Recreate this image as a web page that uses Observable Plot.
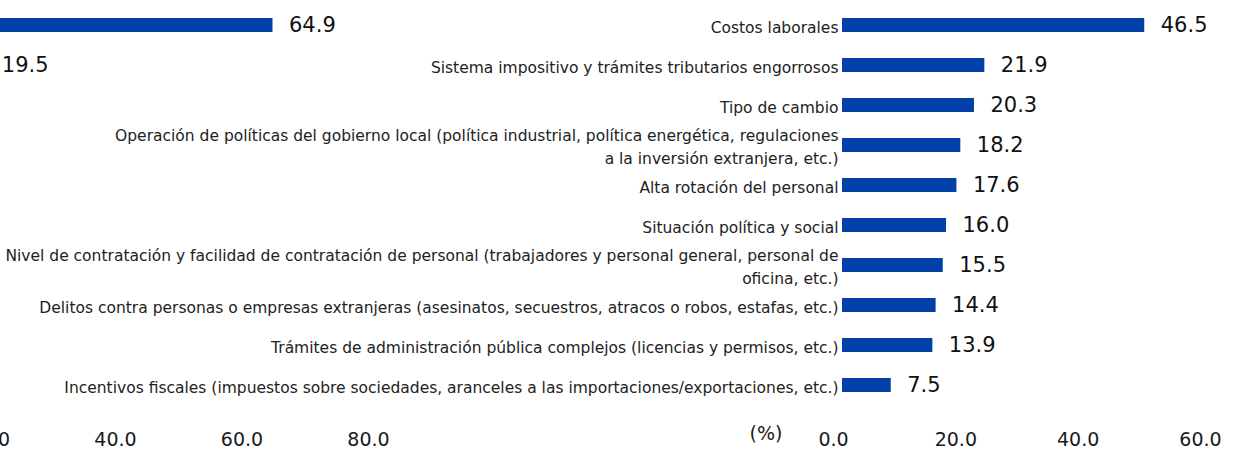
<!DOCTYPE html>
<html>
<head>
<meta charset="utf-8">
<script src="https://cdn.jsdelivr.net/npm/d3@7"></script>
<script src="https://cdn.jsdelivr.net/npm/@observablehq/plot@0.6"></script>
<style>
  html, body { margin: 0; padding: 0; background: #fff; }
  #wrap { position: relative; width: 1257px; height: 449px; overflow: hidden; background: #fff; }
</style>
</head>
<body>
<div id="wrap"></div>
<script>
// ---- data ----
const categories = [
  "Costos laborales",
  "Sistema impositivo y trámites tributarios engorrosos",
  "Tipo de cambio",
  "Operación de políticas del gobierno local (política industrial, política energética, regulaciones\na la inversión extranjera, etc.)",
  "Alta rotación del personal",
  "Situación política y social",
  "Nivel de contratación y facilidad de contratación de personal (trabajadores y personal general, personal de\noficina, etc.)",
  "Delitos contra personas o empresas extranjeras (asesinatos, secuestros, atracos o robos, estafas, etc.)",
  "Trámites de administración pública complejos (licencias y permisos, etc.)",
  "Incentivos fiscales (impuestos sobre sociedades, aranceles a las importaciones/exportaciones, etc.)"
];
const values = [46.5, 21.9, 20.3, 18.2, 17.6, 16.0, 15.5, 14.4, 13.9, 7.5];
const rightTicks = [0, 20, 40, 60];
const unitLabel = "(%)";

// partially visible neighbouring chart (only its last bars and axis are in view)
const leftValues = [64.9, 19.5];
const leftTicks = [0, 20, 40, 60, 80];

const data = categories.map((c, i) => ({c, v: values[i]}));
const leftData = leftValues.map((v, i) => ({i, v}));

const BAR = "#0040a8";
const FONT = "DejaVu Sans, Verdana, sans-serif";
const fmt = d => d.toFixed(1);
const wrap = document.getElementById("wrap");

// ---- left (cropped) chart ----
const left = Plot.plot({
  width: 520, height: 449,
  marginLeft: 0, marginRight: 14, marginTop: 0, marginBottom: 19,
  style: {fontFamily: FONT, background: "transparent", color: "#1a1a1a", overflow: "visible"},
  x: {domain: [0, 80], label: null},
  y: {type: "band", domain: leftData.map(d => d.i), range: [1, 88.5], paddingInner: 0.64, paddingOuter: 0.4, axis: null, label: null},
  marks: [
    Plot.axisX({ticks: leftTicks, tickFormat: fmt, tickSize: 0, tickPadding: 2, fontSize: 19, fill: "#1a1a1a", label: null}),
    Plot.barX(leftData, {x: "v", y: "i", fill: BAR}),
    Plot.text(leftData, {x: "v", y: "i", text: d => fmt(d.v), textAnchor: "start", dx: 16, fontSize: 21, fill: "#111"})
  ]
});
left.style.position = "absolute";
left.style.left = "-138px";
left.style.top = "0px";
wrap.appendChild(left);

// ---- right chart: bars and category labels ----
const right = Plot.plot({
  width: 1257, height: 449,
  marginLeft: 842, marginRight: 25, marginTop: 0, marginBottom: 39,
  style: {fontFamily: FONT, background: "transparent", color: "#1a1a1a", overflow: "visible"},
  x: {domain: [0, 60], axis: null, label: null},
  y: {domain: categories, paddingInner: 0.64, paddingOuter: 0.403, label: null},
  marks: [
    Plot.axisY({tickSize: 0, tickPadding: 4, fontSize: 15.5, lineHeight: 1.45, fill: "#222", label: null}),
    Plot.barX(data, {x: "v", y: "c", fill: BAR}),
    Plot.text(data, {x: "v", y: "c", text: d => fmt(d.v), textAnchor: "start", dx: 16, fontSize: 21, fill: "#111"})
  ]
});
right.style.position = "absolute";
right.style.left = "0px";
right.style.top = "0px";
wrap.appendChild(right);

// ---- right chart: value axis as printed ----
const axis = Plot.plot({
  width: 1257, height: 449,
  marginLeft: 833, marginRight: 57, marginTop: 0, marginBottom: 19,
  style: {fontFamily: FONT, background: "transparent", color: "#1a1a1a", overflow: "visible"},
  x: {domain: [0, 60], label: null},
  marks: [
    Plot.axisX({ticks: rightTicks, tickFormat: fmt, tickSize: 0, tickPadding: 2, fontSize: 19, fill: "#1a1a1a", label: null}),
    Plot.text([unitLabel], {frameAnchor: "bottom-left", text: d => d, textAnchor: "end", lineAnchor: "middle", dx: -51, dy: 3, fontSize: 19, fill: "#1a1a1a"})
  ]
});
axis.style.position = "absolute";
axis.style.left = "0px";
axis.style.top = "0px";
axis.style.pointerEvents = "none";
wrap.appendChild(axis);
</script>
</body>
</html>
